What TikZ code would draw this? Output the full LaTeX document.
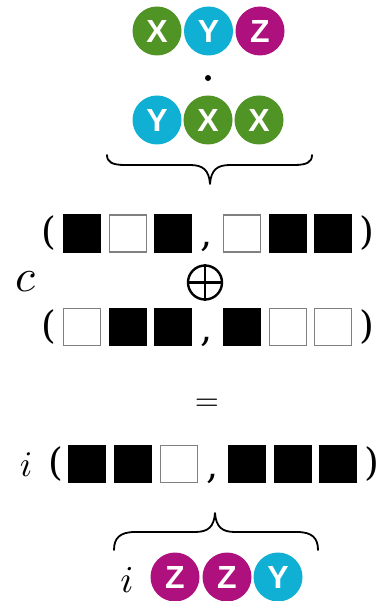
\documentclass[tikz,border=0pt]{standalone}
\usepackage{graphicx}
\usepackage{fontspec}
\newfontfamily\ballfont{Liberation Sans}
\newfontfamily\parfont{DejaVu Serif}
\definecolor{bgreen}{RGB}{80,148,38}
\definecolor{bcyan}{RGB}{16,176,212}
\definecolor{bmag}{RGB}{174,16,126}
\tikzset{
  ball/.style={circle, minimum size=49pt, inner sep=0pt, text=white,
    font=\fontsize{32}{32}\selectfont\ballfont\bfseries},
  gb/.style={ball, fill=bgreen},
  cb/.style={ball, fill=bcyan},
  mb/.style={ball, fill=bmag},
  bsq/.style={draw=black, fill=black, minimum size=37.5pt, inner sep=0pt, line width=1pt},
  wsq/.style={draw=black!50, fill=white, minimum size=37pt, inner sep=0pt, line width=1.6pt},
  big/.style={inner sep=0pt, font=\parfont\fontsize{38}{38}\selectfont},
  mth/.style={inner sep=0pt},
  opstyle/.style={circle, draw, line width=2.4pt, minimum size=34pt, inner sep=0pt},
  bracestyle/.style={line width=1.8pt, line cap=round, line join=round}
}
\begin{document}
\begin{tikzpicture}[x=1pt,y=-1pt]
\useasboundingbox (0,0) rectangle (384,601);
% top row of balls
\node[gb] (t1) at (157,31) {X};
\node[cb] (t2) at (208.5,31) {Y};
\node[mb] (t3) at (260,31) {Z};
% dot
\fill (208,78) circle (3pt) coordinate (dot);
% second row
\node[cb] (u1) at (157,120) {Y};
\node[gb] (u2) at (208,120) {X};
\node[gb] (u3) at (259,120) {X};
% top brace
\draw[bracestyle] (107,155) .. controls (107,162) and (112,165) .. (125,165) -- (190,165)
  .. controls (203,165) and (209,170) .. (210,184)
  .. controls (211,170) and (217,165) .. (230,165) -- (294,165)
  .. controls (307,165) and (312,162) .. (312,155);
% row 1
\node[big] (p1l) at (49,233) {(};
\node[bsq] (a1) at (82,233.5) {};
\node[wsq] (a2) at (128,233.5) {};
\node[bsq] (a3) at (173,233.5) {};
\node[big, anchor=base] (c1) at (207,247) {,};
\node[wsq] (a4) at (242,233.5) {};
\node[bsq] (a5) at (288,233.5) {};
\node[bsq] (a6) at (333,233.5) {};
\node[big] (p1r) at (367,233) {)};
% c and oplus
\node[mth] (cc) at (25,282) {\scalebox{4.6}{$c$}};
\node[opstyle] (op) at (205,282.5) {};
\draw[line width=2.4pt] (op.north) -- (op.south);
\draw[line width=2.4pt] (op.west) -- (op.east);
% row 2
\node[big] (p2l) at (49,327) {(};
\node[wsq] (b1) at (82,327) {};
\node[bsq] (b2) at (128,327) {};
\node[bsq] (b3) at (173,327) {};
\node[big, anchor=base] (c2) at (207,341) {,};
\node[bsq] (b4) at (242,327) {};
\node[wsq] (b5) at (288,327) {};
\node[wsq] (b6) at (333,327) {};
\node[big] (p2r) at (367,327) {)};
% equals
\node[mth] (eq) at (207,405) {\scalebox{3.1}{$=$}};
% row 3
\node[mth] (i1) at (26,465) {\scalebox{3.6}{$i$}};
\node[big] (p3l) at (56,464) {(};
\node[bsq] (d1) at (87,464) {};
\node[bsq] (d2) at (133,464) {};
\node[wsq] (d3) at (179,464) {};
\node[big, anchor=base] (c3) at (213,478) {,};
\node[bsq] (d4) at (247,464) {};
\node[bsq] (d5) at (293,464) {};
\node[bsq] (d6) at (338,464) {};
\node[big] (p3r) at (372,464) {)};
% bottom brace
\draw[bracestyle] (114,550) .. controls (114,538) and (120,532) .. (135,532) -- (195,532)
  .. controls (208,532) and (214,527) .. (215,513)
  .. controls (216,527) and (222,532) .. (235,532) -- (297,532)
  .. controls (312,532) and (318,538) .. (318,550);
% bottom balls
\node[mth] (i2) at (127,580) {\scalebox{3.8}{$i$}};
\node[mb] (v1) at (175,577) {Z};
\node[mb] (v2) at (227,577) {Z};
\node[cb] (v3) at (278,577) {Y};
\end{tikzpicture}
\end{document}
